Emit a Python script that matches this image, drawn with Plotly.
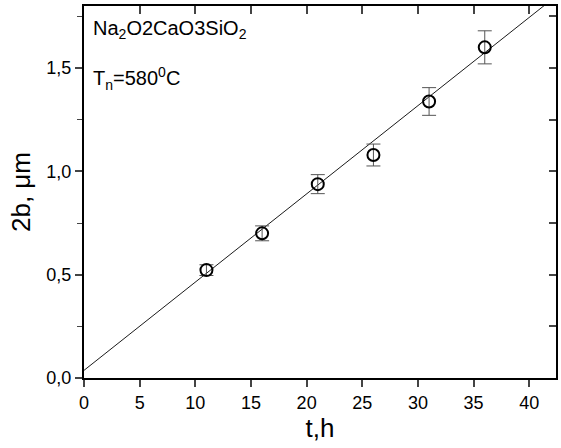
import plotly.graph_objects as go

t_hours = [11, 16, 21, 26, 31, 36]
width_um = [0.522, 0.700, 0.938, 1.079, 1.338, 1.600]
err_um = [0.026, 0.036, 0.046, 0.053, 0.067, 0.080]
fit_t = [0, 42.4]
fit_intercept = 0.037
fit_slope = 0.0427
fit_y = [fit_intercept + fit_slope * v for v in fit_t]

x_ticks = [0, 5, 10, 15, 20, 25, 30, 35, 40]
x_ticklabels = [str(v) for v in x_ticks]
y_ticks = [0.0, 0.5, 1.0, 1.5]
y_ticklabels = ["0,0", "0,5", "1,0", "1,5"]

FONT = "Liberation Sans, Arial, sans-serif"

fig = go.Figure()
fig.add_trace(go.Scatter(x=fit_t, y=fit_y, mode="lines",
                         line=dict(color="black", width=0.9),
                         showlegend=False, hoverinfo="skip"))
fig.add_trace(go.Scatter(x=t_hours, y=width_um, mode="markers",
                         marker=dict(symbol="circle-open", size=12,
                                     color="black", line=dict(width=2)),
                         error_y=dict(type="data", array=err_um, visible=True,
                                      color="#555555", thickness=1, width=7),
                         showlegend=False))
# mirror axes (top/right, inside ticks)
fig.add_trace(go.Scatter(x=[None], y=[None], xaxis="x2", yaxis="y2",
                         showlegend=False, hoverinfo="skip"))

fig.update_layout(
    width=561, height=448,
    margin=dict(l=84, r=5, t=6, b=70),
    paper_bgcolor="white", plot_bgcolor="white",
    font=dict(family=FONT, color="black", size=17),
    xaxis=dict(range=[0, 42.4], tickvals=x_ticks, ticktext=x_ticklabels,
               ticks="outside", ticklen=7, tickwidth=1.5, showgrid=False,
               zeroline=False, showline=True, linecolor="black", linewidth=2,
               tickfont=dict(size=18),
               title=dict(text="t,h", font=dict(size=26), standoff=3)),
    yaxis=dict(range=[0, 1.8], tickvals=y_ticks, ticktext=y_ticklabels,
               ticks="outside", ticklen=7, tickwidth=1.5, showgrid=False,
               zeroline=False, showline=True, linecolor="black", linewidth=2,
               tickfont=dict(size=18),
               minor=dict(dtick=0.25, ticks="outside", ticklen=5, tickwidth=1),
               title=dict(text="2b, μm", font=dict(size=26), standoff=8)),
    xaxis2=dict(range=[0, 42.4], overlaying="x", side="top", anchor="y",
                tickvals=x_ticks, ticks="inside", ticklen=8, tickwidth=1.5,
                showticklabels=False, showgrid=False, zeroline=False,
                showline=True, linecolor="black", linewidth=1.5),
    yaxis2=dict(range=[0, 1.8], overlaying="y", side="right", anchor="x",
                tickvals=[0.25 * i for i in range(8)], ticks="inside",
                ticklen=7, tickwidth=1.5, showticklabels=False,
                showgrid=False, zeroline=False, showline=True,
                linecolor="black", linewidth=1.5),
    annotations=[
        dict(text="Na<sub>2</sub>O2CaO3SiO<sub>2</sub>", xref="paper", yref="paper",
             x=0.015, y=0.975, xanchor="left", yanchor="top", showarrow=False,
             font=dict(size=20)),
        dict(text="T<sub>n</sub>=580<sup>0</sup>C", xref="paper", yref="paper",
             x=0.015, y=0.85, xanchor="left", yanchor="top", showarrow=False,
             font=dict(size=20)),
    ],
)

fig.write_html("out.html")
